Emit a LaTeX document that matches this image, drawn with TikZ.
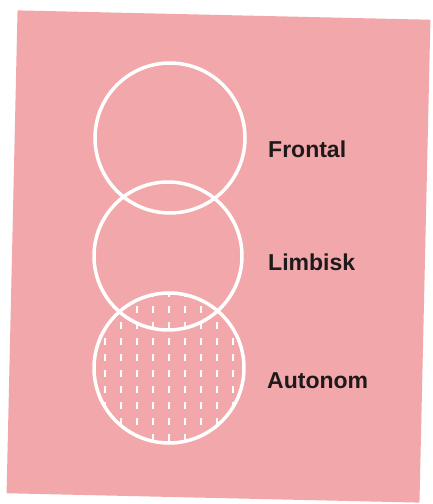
\documentclass[tikz,border=0pt]{standalone}
\usepackage{fontspec}
\setmainfont{Liberation Sans}
\definecolor{bgpink}{RGB}{242,167,170}
\definecolor{txt}{RGB}{30,26,28}
\begin{document}
\begin{tikzpicture}[x=1pt,y=1pt,
  ring/.style={circle, draw=white, line width=3.5pt, minimum size=150pt, inner sep=0pt},
  lbl/.style={anchor=base west, inner sep=0pt, text=txt, font=\fontsize{23}{23}\selectfont\bfseries},
  hatch/.style={draw=white, line width=2pt, dash pattern=on 7pt off 9pt}]
\useasboundingbox (0,0) rectangle (433,504);
\fill[white] (0,0) rectangle (433,504);
\node[fill=bgpink, rotate=-1.3, minimum width=413pt, minimum height=483pt, inner sep=0pt] (bg) at (218.5,247.5) {};
% hatching in bottom circle
\begin{scope}
  \clip (169,136) circle (75pt);
  \foreach \k in {-4,...,4} {
    \draw[hatch] (169+16*\k, 214) -- (169+16*\k, 55);
  }
\end{scope}
\node[ring] (frontal) at (170,366) {};
\node[ring, minimum size=148pt] (limbisk) at (168,248) {};
\node[ring] (autonom) at (169,136) {};
\node[lbl] (tf) at (268,346.7) {Frontal};
\node[lbl] (tl) at (268,233) {Limbisk};
\node[lbl] (ta) at (267,115.7) {Autonom};
\end{tikzpicture}
\end{document}
